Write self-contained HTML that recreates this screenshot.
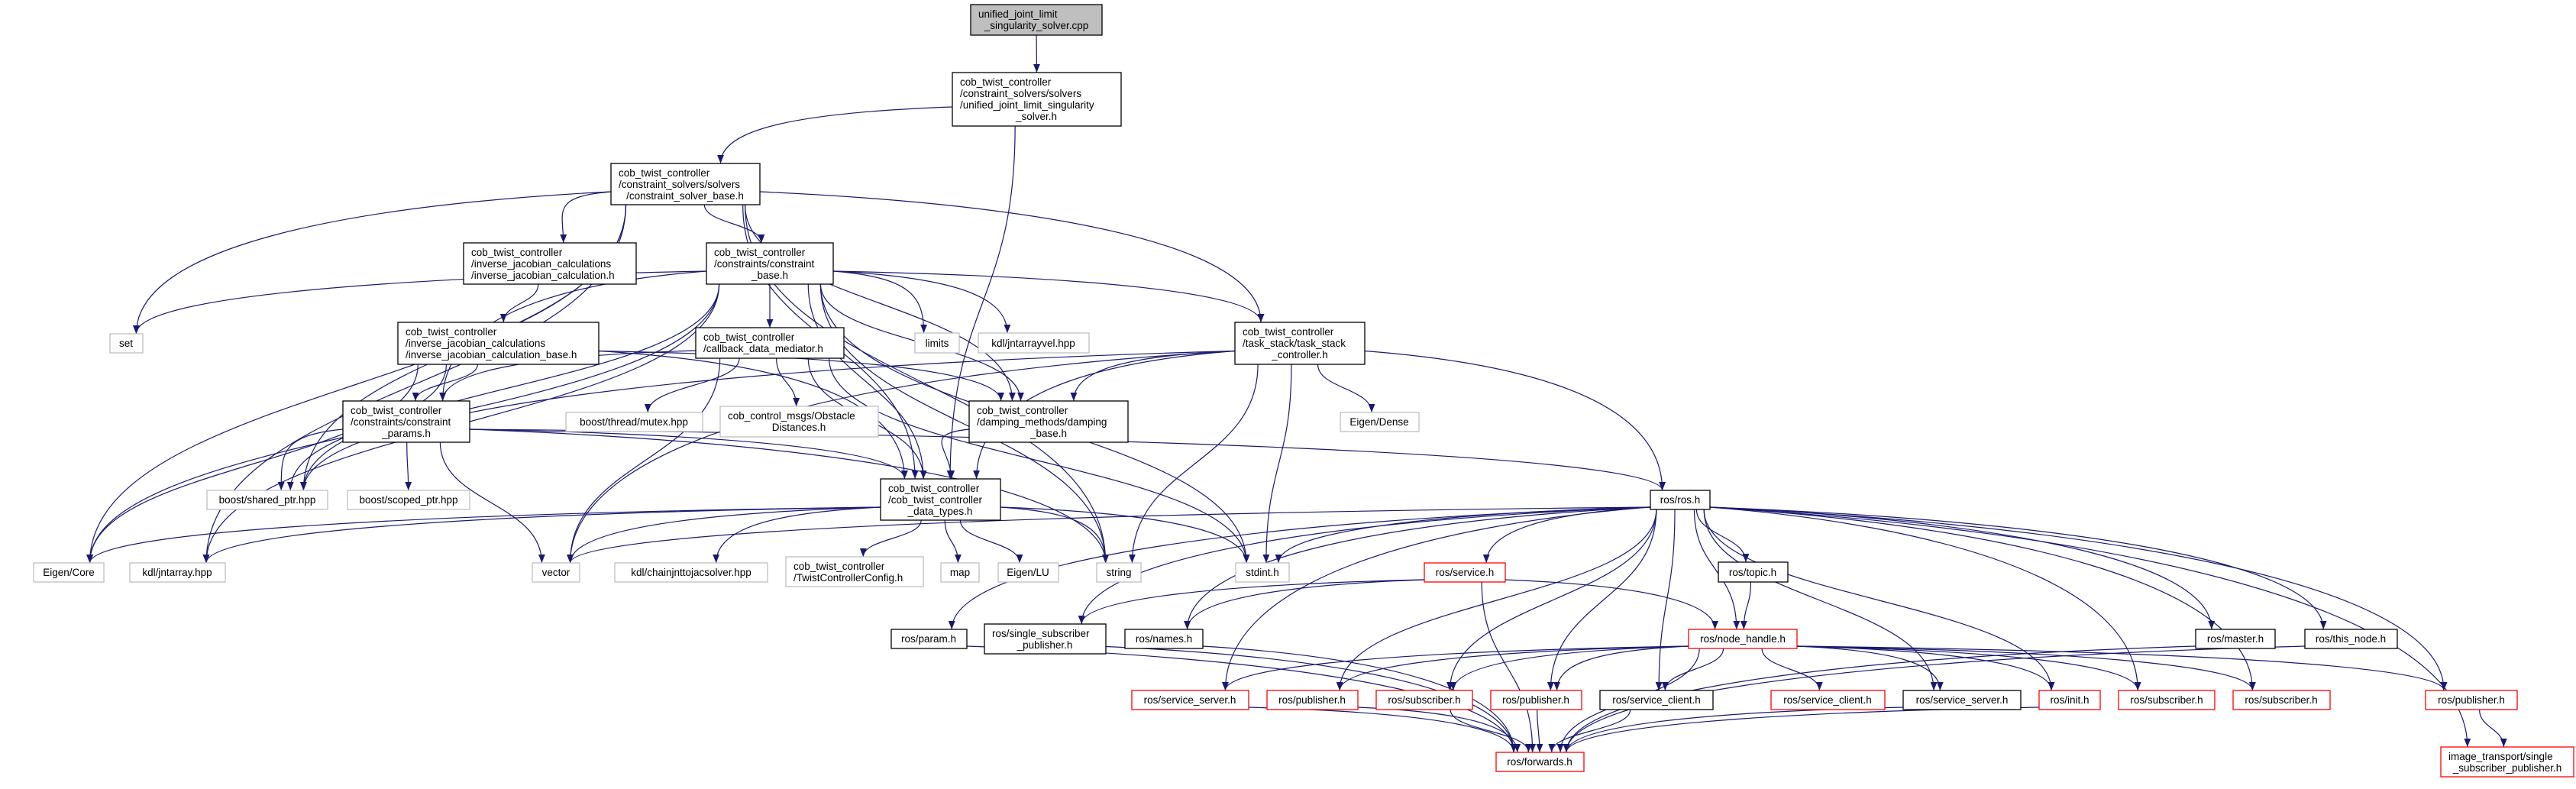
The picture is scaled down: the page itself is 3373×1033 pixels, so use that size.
<!DOCTYPE html>
<html><head><meta charset="utf-8"><style>
html,body{margin:0;padding:0;background:#fff;}
svg{display:block;}
text{font-family:"Liberation Sans",sans-serif;font-size:13.5px;fill:#000;}
.b{fill:#fff;stroke:#000;stroke-width:1.3}
.g{fill:#fff;stroke:#bfbfbf;stroke-width:1.3}
.r{fill:#fff;stroke:#ff0000;stroke-width:1.3}
.e{fill:none;stroke:#191970;stroke-width:1.2}
</style></head><body>
<svg id="s" width="3373" height="1033" viewBox="0 0 3373 1033" xmlns="http://www.w3.org/2000/svg">
<defs><marker id="ar" viewBox="0 0 10 10" refX="10" refY="5" markerWidth="11" markerHeight="11" markerUnits="userSpaceOnUse" orient="auto"><path d="M0,1 L10,5 L0,9 z" fill="#191970"/></marker></defs>
<g id="edges"></g>
<g id="nodes">
<rect x="1271" y="6" width="172" height="40" fill="#bfbfbf" stroke="#000" stroke-width="1.3"/>
<text x="1281" y="23">unified_joint_limit</text><text x="1357" y="38" text-anchor="middle">_singularity_solver.cpp</text>

<rect class="b" x="1247" y="95" width="221" height="70"/>
<text x="1257" y="112">cob_twist_controller</text><text x="1257" y="127">/constraint_solvers/solvers</text><text x="1257" y="142">/unified_joint_limit_singularity</text><text x="1357" y="157" text-anchor="middle">_solver.h</text>

<rect class="b" x="800" y="214" width="195" height="54"/>
<text x="810" y="231">cob_twist_controller</text><text x="810" y="246">/constraint_solvers/solvers</text><text x="897" y="261" text-anchor="middle">/constraint_solver_base.h</text>

<rect class="b" x="607" y="318" width="226" height="54"/>
<text x="617" y="335">cob_twist_controller</text><text x="617" y="350">/inverse_jacobian_calculations</text><text x="617" y="365">/inverse_jacobian_calculation.h</text>

<rect class="b" x="925" y="318" width="166" height="54"/>
<text x="935" y="335">cob_twist_controller</text><text x="935" y="350">/constraints/constraint</text><text x="1008" y="365" text-anchor="middle">_base.h</text>

<rect class="b" x="1617" y="422" width="170" height="55"/>
<text x="1627" y="439">cob_twist_controller</text><text x="1627" y="454">/task_stack/task_stack</text><text x="1702" y="469" text-anchor="middle">_controller.h</text>

<rect class="b" x="911" y="429" width="194" height="40"/>
<text x="921" y="446">cob_twist_controller</text><text x="921" y="461">/callback_data_mediator.h</text>

<rect class="b" x="521" y="422" width="263" height="55"/>
<text x="531" y="439">cob_twist_controller</text><text x="531" y="454">/inverse_jacobian_calculations</text><text x="531" y="469">/inverse_jacobian_calculation_base.h</text>

<rect class="g" x="144" y="437" width="43" height="25"/><text x="165" y="454" text-anchor="middle">set</text>
<rect class="g" x="1198" y="436" width="58" height="26"/><text x="1227" y="454" text-anchor="middle">limits</text>
<rect class="g" x="1281" y="436" width="145" height="26"/><text x="1353" y="454" text-anchor="middle">kdl/jntarrayvel.hpp</text>

<rect class="b" x="449" y="525" width="166" height="54"/>
<text x="459" y="542">cob_twist_controller</text><text x="459" y="557">/constraints/constraint</text><text x="532" y="572" text-anchor="middle">_params.h</text>

<rect class="g" x="741" y="540" width="179" height="25"/><text x="830" y="557" text-anchor="middle">boost/thread/mutex.hpp</text>
<rect class="g" x="943" y="532" width="207" height="40"/><text x="953" y="549">cob_control_msgs/Obstacle</text><text x="1046" y="564" text-anchor="middle">Distances.h</text>

<rect class="b" x="1269" y="525" width="208" height="54"/>
<text x="1279" y="542">cob_twist_controller</text><text x="1279" y="557">/damping_methods/damping</text><text x="1373" y="572" text-anchor="middle">_base.h</text>

<rect class="g" x="1755" y="540" width="103" height="25"/><text x="1806" y="557" text-anchor="middle">Eigen/Dense</text>

<rect class="b" x="1153" y="627" width="157" height="54"/>
<text x="1163" y="644">cob_twist_controller</text><text x="1163" y="659">/cob_twist_controller</text><text x="1231" y="674" text-anchor="middle">_data_types.h</text>

<rect class="b" x="2161" y="642" width="78" height="25"/><text x="2200" y="659" text-anchor="middle">ros/ros.h</text>
<rect class="g" x="271" y="642" width="158" height="25"/><text x="350" y="659" text-anchor="middle">boost/shared_ptr.hpp</text>
<rect class="g" x="455" y="642" width="160" height="25"/><text x="535" y="659" text-anchor="middle">boost/scoped_ptr.hpp</text>

<rect class="g" x="44" y="737" width="92" height="25"/><text x="90" y="754" text-anchor="middle">Eigen/Core</text>
<rect class="g" x="170" y="737" width="125" height="25"/><text x="232" y="754" text-anchor="middle">kdl/jntarray.hpp</text>
<rect class="g" x="697" y="737" width="62" height="25"/><text x="728" y="754" text-anchor="middle">vector</text>
<rect class="g" x="805" y="737" width="200" height="25"/><text x="905" y="754" text-anchor="middle">kdl/chainjnttojacsolver.hpp</text>
<rect class="g" x="1029" y="729" width="180" height="39"/><text x="1039" y="746">cob_twist_controller</text><text x="1039" y="761">/TwistControllerConfig.h</text>
<rect class="g" x="1232" y="737" width="50" height="25"/><text x="1257" y="754" text-anchor="middle">map</text>
<rect class="g" x="1307" y="737" width="79" height="25"/><text x="1346" y="754" text-anchor="middle">Eigen/LU</text>
<rect class="g" x="1436" y="737" width="58" height="25"/><text x="1465" y="754" text-anchor="middle">string</text>
<rect class="g" x="1618" y="737" width="70" height="25"/><text x="1653" y="754" text-anchor="middle">stdint.h</text>
<rect class="r" x="1865" y="737" width="106" height="25"/><text x="1918" y="754" text-anchor="middle">ros/service.h</text>
<rect class="b" x="2250" y="736" width="91" height="26"/><text x="2295" y="754" text-anchor="middle">ros/topic.h</text>

<rect class="b" x="1167" y="824" width="99" height="25"/><text x="1216" y="841" text-anchor="middle">ros/param.h</text>
<rect class="b" x="1289" y="817" width="159" height="39"/><text x="1299" y="834">ros/single_subscriber</text><text x="1368" y="849" text-anchor="middle">_publisher.h</text>
<rect class="b" x="1473" y="824" width="102" height="25"/><text x="1524" y="841" text-anchor="middle">ros/names.h</text>
<rect class="r" x="2211" y="824" width="142" height="25"/><text x="2282" y="841" text-anchor="middle">ros/node_handle.h</text>
<rect class="b" x="2875" y="824" width="104" height="25"/><text x="2927" y="841" text-anchor="middle">ros/master.h</text>
<rect class="b" x="3018" y="824" width="121" height="25"/><text x="3078" y="841" text-anchor="middle">ros/this_node.h</text>

<rect class="r" x="1482" y="904" width="153" height="25"/><text x="1558" y="921" text-anchor="middle">ros/service_server.h</text>
<rect class="r" x="1659" y="904" width="119" height="25"/><text x="1718" y="921" text-anchor="middle">ros/publisher.h</text>
<rect class="r" x="1802" y="904" width="126" height="25"/><text x="1865" y="921" text-anchor="middle">ros/subscriber.h</text>
<rect class="r" x="1952" y="904" width="119" height="25"/><text x="2011" y="921" text-anchor="middle">ros/publisher.h</text>
<rect class="b" x="2095" y="904" width="148" height="25"/><text x="2169" y="921" text-anchor="middle">ros/service_client.h</text>
<rect class="r" x="2319" y="904" width="149" height="25"/><text x="2393" y="921" text-anchor="middle">ros/service_client.h</text>
<rect class="b" x="2492" y="904" width="154" height="25"/><text x="2569" y="921" text-anchor="middle">ros/service_server.h</text>
<rect class="r" x="2670" y="904" width="80" height="25"/><text x="2710" y="921" text-anchor="middle">ros/init.h</text>
<rect class="r" x="2774" y="904" width="126" height="25"/><text x="2837" y="921" text-anchor="middle">ros/subscriber.h</text>
<rect class="r" x="2924" y="904" width="127" height="25"/><text x="2987" y="921" text-anchor="middle">ros/subscriber.h</text>
<rect class="r" x="3176" y="904" width="120" height="25"/><text x="3236" y="921" text-anchor="middle">ros/publisher.h</text>

<rect class="r" x="1959" y="985" width="115" height="25"/><text x="2016" y="1002" text-anchor="middle">ros/forwards.h</text>
<rect class="r" x="3196" y="978" width="174" height="39"/><text x="3206" y="995">image_transport/single</text><text x="3283" y="1010" text-anchor="middle">_subscriber_publisher.h</text>
</g>
</svg>
<script>
var N={
A:[1271,6,1443,46],B:[1247,95,1468,165],C:[800,214,995,268],D:[607,318,833,372],E:[925,318,1091,372],
F:[1617,422,1787,477],G:[911,429,1105,469],H:[521,422,784,477],I:[144,437,187,462],J:[1198,436,1256,462],
K:[1281,436,1426,462],L:[449,525,615,579],M:[741,540,920,565],Nn:[943,532,1150,572],O:[1269,525,1477,579],
P:[1755,540,1858,565],Q:[1153,627,1310,681],R:[2161,642,2239,667],S:[271,642,429,667],T:[455,642,615,667],
U:[44,737,136,762],V:[170,737,295,762],W:[697,737,759,762],X:[805,737,1005,762],Y:[1029,729,1209,768],
map:[1232,737,1282,762],lu:[1307,737,1386,762],str:[1436,737,1494,762],std:[1618,737,1688,762],
svc:[1865,737,1971,762],top:[2250,736,2341,762],par:[1167,824,1266,849],ssp:[1289,817,1448,856],
nam:[1473,824,1575,849],nh:[2211,824,2353,849],mas:[2875,824,2979,849],tn:[3018,824,3139,849],
ss1:[1482,904,1635,929],pb1:[1659,904,1778,929],sb1:[1802,904,1928,929],pb2:[1952,904,2071,929],
sc1:[2095,904,2243,929],sc2:[2319,904,2468,929],ss2:[2492,904,2646,929],ini:[2670,904,2750,929],
sb2:[2774,904,2900,929],sb3:[2924,904,3051,929],pb3:[3176,904,3296,929],fw:[1959,985,2074,1010],it:[3196,978,3370,1017]};
var E=[
"A B","B C","B Q","C D","C E","C I","C U","C V","C S","C Q","C F","C O","C str",
"D H","E G","E F","E J","E K","E L","E Q","E I","E S","E U","E V","E str","E std","E O",
"F O","F Q","F P","F R","F str","F std","F W","F S",
"G L","G M","G Nn","G Q","G W","G std",
"H L","H O","H S","H U","H Q",
"L S","L T","L W","L Q","L R","L str","O Q",
"Q U","Q V","Q W","Q X","Q Y","Q map","Q lu","Q str","Q std",
"R std","R W","R svc","R par","R ssp","R nam","R ss1","R pb1","R sb1","R pb2","R nh","R top","R ss2","R ini","R sb2","R sb3","R mas","R tn","R pb3","R it","R sc1",
"svc nh","svc fw","svc nam","svc ssp","top nh",
"nh ss1","nh pb1","nh sb1","nh pb2","nh sc1","nh sc2","nh ss2","nh ini","nh sb2","nh sb3","nh pb3","nh fw",
"par fw","ssp fw","nam fw","ss1 fw","pb1 fw","sb1 fw","pb2 fw","sc1 fw","ss2 fw","ini fw","mas fw","tn fw","pb3 it"];
var g=document.getElementById("edges"),ns="http://www.w3.org/2000/svg";
E.forEach(function(s){var p=s.split(" "),a=N[p[0]],b=N[p[1]];
var acx=(a[0]+a[2])/2,bcx=(b[0]+b[2])/2;
var sx,sy,tx=bcx,ty=b[1],d;
var aw=(a[2]-a[0])/2,bw=(b[2]-b[0])/2;
tx=bcx+Math.max(-bw*0.6,Math.min(bw*0.6,(acx-bcx)*0.1));
if(ty<=a[3]){
 ty=(b[1]+b[3])/2; var left=bcx<acx; tx=left?b[2]:b[0]; sy=(a[1]+a[3])/2+8; sx=left?a[0]:a[2];
 d="M"+sx+","+sy+" C"+((sx*0.3+tx*0.7))+","+(sy+40)+" "+((sx*0.7+tx*0.3)+(left?-200:200))+","+(ty-120)+" "+tx+","+ty;}
else{
 var dx=tx-acx,dy=ty-a[3];
 if(Math.abs(dx)>2.5*dy){ sx=dx<0?a[0]:a[2]; sy=(a[1]+a[3])/2+Math.min(10,(a[3]-a[1])/2-3);
  var h=(ty-sy);d="M"+sx+","+sy+" C"+(sx+dx*0.5)+","+(sy+h*0.1)+" "+tx+","+(ty-h*0.6)+" "+tx+","+ty;}
 else{ sx=acx+Math.max(-aw*0.8,Math.min(aw*0.8,dx*0.25)); sy=a[3];
  var h=(ty-sy)/2;d="M"+sx+","+sy+" C"+sx+","+(sy+h)+" "+tx+","+(ty-h)+" "+tx+","+ty;}}
var e=document.createElementNS(ns,"path");e.setAttribute("d",d);e.setAttribute("class","e");e.setAttribute("marker-end","url(#ar)");g.appendChild(e);});
</script>
</body></html>
